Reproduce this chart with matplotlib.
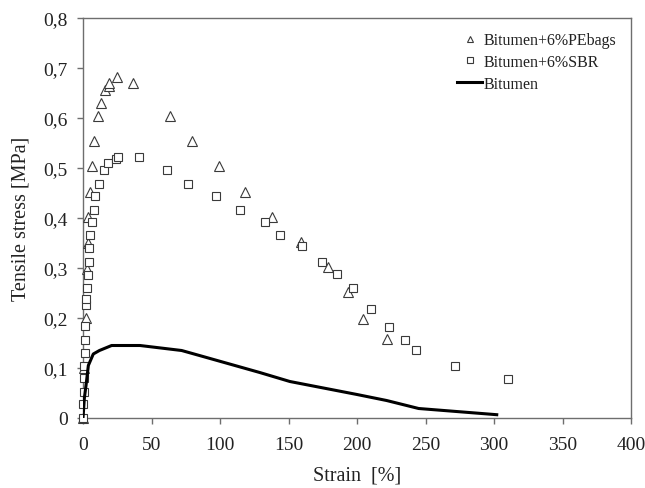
import matplotlib
matplotlib.use("Agg")
import matplotlib.pyplot as plt
from matplotlib.ticker import FuncFormatter

plt.rcParams['font.family'] = ['Liberation Serif', 'DejaVu Serif']

# PE bags (triangles)
pe_strain = [0, 1.0, 2.2, 2.7, 3.4, 3.4, 5.1, 6.3, 8.2, 11.2, 12.9, 16.0, 18.7, 19.2, 24.6,
             36.7, 63.5, 79.8, 99.3, 118.2, 137.7, 159.1, 178.6, 193.2, 204.6, 222.1]
pe_stress = [0, 0.10, 0.201, 0.298, 0.351, 0.403, 0.453, 0.505, 0.555, 0.605, 0.63, 0.656,
             0.665, 0.671, 0.683, 0.671, 0.605, 0.555, 0.505, 0.453, 0.403, 0.353, 0.303,
             0.253, 0.199, 0.159]

# SBR (squares)
sbr_strain = [0, 0.2, 0.7, 0.7, 0.7, 1.5, 1.5, 1.5, 2.2, 2.2, 2.7, 3.4, 4.1, 4.6, 5.1, 6.6,
              7.8, 9.0, 11.9, 15.3, 18.5, 24.1, 25.3, 40.9, 61.1, 76.9, 97.1, 114.6, 133.1,
              144.0, 159.6, 174.2, 185.2, 196.8, 210.0, 223.1, 234.8, 242.8, 271.5, 310.0]
sbr_stress = [0, 0.028, 0.053, 0.08, 0.105, 0.131, 0.157, 0.185, 0.226, 0.239, 0.261, 0.286,
              0.313, 0.34, 0.366, 0.393, 0.417, 0.445, 0.469, 0.496, 0.51, 0.519, 0.523,
              0.523, 0.496, 0.469, 0.445, 0.417, 0.393, 0.366, 0.345, 0.313, 0.288, 0.26,
              0.219, 0.183, 0.157, 0.137, 0.105, 0.079]

# Bitumen (line)
bit_strain = [0, 1.0, 2.2, 3.9, 7.5, 12.0, 20.9, 41.6, 72.0, 85.0, 129.0, 151.0, 200.0,
              221.6, 245.0, 302.0]
bit_stress = [0, 0.04, 0.065, 0.105, 0.128, 0.135, 0.145, 0.145, 0.135, 0.125, 0.091,
              0.073, 0.047, 0.035, 0.019, 0.0066]

x_ticks = [0, 50, 100, 150, 200, 250, 300, 350, 400]
y_ticks = [0, 0.1, 0.2, 0.3, 0.4, 0.5, 0.6, 0.7, 0.8]

fig = plt.figure(figsize=(6.45, 4.89), dpi=100)
ax = fig.add_axes([83/645, 70/489, (631-83)/645, 400/489])

spine_col = '#6e6e6e'
mk_col = '#3a3a3a'

ax.plot(pe_strain, pe_stress, linestyle='none', marker='^', markersize=7,
        markerfacecolor='white', markeredgecolor=mk_col, markeredgewidth=0.8,
        label='Bitumen+6%PEbags', zorder=3, clip_on=False)
ax.plot(sbr_strain, sbr_stress, linestyle='none', marker='s', markersize=6,
        markerfacecolor='white', markeredgecolor=mk_col, markeredgewidth=0.8,
        label='Bitumen+6%SBR', zorder=3, clip_on=False)
ax.plot(bit_strain, bit_stress, color='black', linewidth=2.2, label='Bitumen', zorder=4)

ax.set_xlim(0, 400)
ax.set_ylim(0, 0.8)
ax.set_xticks(x_ticks)
ax.set_yticks(y_ticks)
ax.yaxis.set_major_formatter(FuncFormatter(lambda v, p: '0' if v == 0 else f'{v:.1f}'.replace('.', ',')))
ax.xaxis.set_major_formatter(FuncFormatter(lambda v, p: f'{int(v)}'))

for s in ax.spines.values():
    s.set_color(spine_col)
    s.set_linewidth(1.0)

ax.tick_params(direction='out', length=4, width=1.0, color=spine_col, labelsize=14,
               labelcolor='#222222')
ax.tick_params(axis='x', pad=9)
ax.tick_params(axis='y', pad=7)

ax.set_xlabel('Strain  [%]', fontsize=14.5, color='#222222', labelpad=9)
ax.set_ylabel('Tensile stress [MPa]', fontsize=14.5, color='#222222', labelpad=9)

leg = ax.legend(loc='upper right', frameon=False, fontsize=11.5, markerscale=0.7,
                handlelength=1.6, handletextpad=0.1, labelspacing=0.35,
                bbox_to_anchor=(1.0, 1.0))
for t in leg.get_texts():
    t.set_color('#222222')

fig.savefig('out.png', dpi=100)
